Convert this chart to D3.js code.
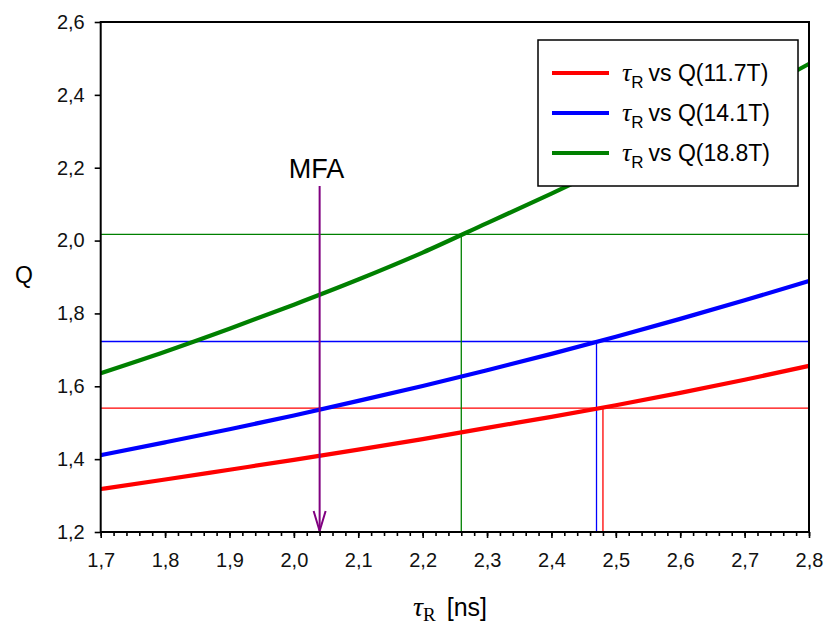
<!DOCTYPE html>
<html>
<head>
<meta charset="utf-8">
<script src="https://cdn.jsdelivr.net/npm/d3@7"></script>
<style>
  html, body { margin: 0; padding: 0; background: #fff; }
  svg { display: block; }
</style>
</head>
<body>
<svg id="chart" width="826" height="627"></svg>
<script>
// ---------- data ----------
const tau = [1.7, 1.8, 1.9, 2.0, 2.1, 2.2, 2.3, 2.4, 2.5, 2.6, 2.7, 2.8];
const q117 = [1.318, 1.344, 1.371, 1.398, 1.426, 1.455, 1.486, 1.516, 1.548, 1.582, 1.618, 1.656];
const q141 = [1.411, 1.446, 1.482, 1.520, 1.560, 1.601, 1.644, 1.689, 1.736, 1.785, 1.836, 1.889];
const q188 = [1.636, 1.695, 1.758, 1.824, 1.893, 1.967, 2.048, 2.129, 2.213, 2.300, 2.390, 2.485];
const seriesNames = ["vs Q(11.7T)", "vs Q(14.1T)", "vs Q(18.8T)"];
const seriesColors = ["#ff0000", "#0000ff", "#008000"];
// reference marks: [tau, Q]
const refTau = [2.48, 2.47, 2.26];
const refQ = [1.540, 1.723, 2.017];
const mfaTau = 2.04;
const mfaTop = 2.15;
const xTicks = [1.7, 1.8, 1.9, 2.0, 2.1, 2.2, 2.3, 2.4, 2.5, 2.6, 2.7, 2.8];
const xTickLabels = ["1,7", "1,8", "1,9", "2,0", "2,1", "2,2", "2,3", "2,4", "2,5", "2,6", "2,7", "2,8"];
const yTicks = [1.2, 1.4, 1.6, 1.8, 2.0, 2.2, 2.4, 2.6];
const yTickLabels = ["1,2", "1,4", "1,6", "1,8", "2,0", "2,2", "2,4", "2,6"];
const xMinorTicks = d3.range(0, 56).map(i => 1.7 + i * 0.02);

// ---------- layout ----------
const svg = d3.select("#chart");
const L = 100.7, R = 809, T = 22, B = 532;
const x = d3.scaleLinear().domain([1.7, 2.8]).range([L, R]);
const y = d3.scaleLinear().domain([1.2, 2.6]).range([B, T]);
const sans = "'Liberation Sans', Arial, sans-serif";
const serif = "'Liberation Serif', 'Times New Roman', serif";

const series = [q117, q141, q188].map((vals, i) => ({
  name: seriesNames[i], color: seriesColors[i],
  pts: tau.map((t, j) => [t, vals[j]])
}));

// reference lines
const refG = svg.append("g");
series.forEach((s, i) => {
  refG.append("line")
    .attr("x1", x(1.7)).attr("x2", x(2.8))
    .attr("y1", y(refQ[i])).attr("y2", y(refQ[i]))
    .attr("stroke", s.color).attr("stroke-width", 1.3);
  refG.append("line")
    .attr("x1", x(refTau[i])).attr("x2", x(refTau[i]))
    .attr("y1", y(1.2)).attr("y2", y(refQ[i]))
    .attr("stroke", s.color).attr("stroke-width", 1.3);
});

// curves
const line = d3.line().x(d => x(d[0])).y(d => y(d[1])).curve(d3.curveMonotoneX);
series.forEach(s => {
  svg.append("path").attr("d", line(s.pts))
    .attr("fill", "none").attr("stroke", s.color).attr("stroke-width", 4.2);
});

// MFA arrow
const purple = "#800080";
svg.append("line")
  .attr("x1", x(mfaTau)).attr("x2", x(mfaTau))
  .attr("y1", y(mfaTop)).attr("y2", y(1.2))
  .attr("stroke", purple).attr("stroke-width", 2);
svg.append("path")
  .attr("d", `M${x(mfaTau) - 6},${y(1.2) - 21} L${x(mfaTau)},${y(1.2) - 1} L${x(mfaTau) + 6},${y(1.2) - 21}`)
  .attr("fill", "none").attr("stroke", purple).attr("stroke-width", 2);
svg.append("text")
  .attr("x", x(mfaTau) - 3).attr("y", 178)
  .attr("text-anchor", "middle")
  .attr("font-family", sans).attr("font-size", 27)
  .text("MFA");

// axes
const xAxis = d3.axisBottom(x).tickValues(xTicks)
  .tickFormat((d, i) => xTickLabels[i]).tickSize(6).tickPadding(15);
const xMinor = d3.axisBottom(x).tickValues(xMinorTicks).tickFormat("").tickSize(4);
const yAxis = d3.axisLeft(y).tickValues(yTicks)
  .tickFormat((d, i) => yTickLabels[i]).tickSize(6).tickPadding(10);

const gxm = svg.append("g").attr("transform", `translate(0,${B})`).call(xMinor);
const gx = svg.append("g").attr("transform", `translate(0,${B})`).call(xAxis);
const gy = svg.append("g").attr("transform", `translate(${L},0)`).call(yAxis);
[gx, gxm, gy].forEach(g => {
  g.select(".domain").remove();
  g.selectAll(".tick line").attr("stroke", "#000").attr("stroke-width", 1.6);
  g.selectAll("text").attr("font-family", sans).attr("font-size", 20).attr("fill", "#111");
});

// frame
svg.append("rect")
  .attr("x", L).attr("y", T).attr("width", R - L).attr("height", B - T)
  .attr("fill", "none").attr("stroke", "#000").attr("stroke-width", 2);

// axis titles
svg.append("text")
  .attr("x", 24).attr("y", 283).attr("text-anchor", "middle")
  .attr("font-family", sans).attr("font-size", 23).text("Q");

const xt = svg.append("text").attr("x", 413).attr("y", 616);
xt.append("tspan").attr("font-family", serif).attr("font-style", "italic").attr("font-size", 28).text("τ");
xt.append("tspan").attr("font-family", serif).attr("font-size", 19).attr("dy", 5).text("R");
xt.append("tspan").attr("font-family", sans).attr("font-size", 25).attr("dy", -5).attr("dx", 11).text("[ns]");

// legend
const lg = svg.append("g");
lg.append("rect").attr("x", 538).attr("y", 40).attr("width", 260).attr("height", 146)
  .attr("fill", "#fff").attr("stroke", "#000").attr("stroke-width", 1.5);
series.forEach((s, i) => {
  const ry = 73 + i * 40;
  lg.append("line").attr("x1", 552).attr("x2", 609).attr("y1", ry).attr("y2", ry)
    .attr("stroke", s.color).attr("stroke-width", 4.2);
  const t = lg.append("text").attr("x", 622).attr("y", ry + 8);
  t.append("tspan").attr("font-family", serif).attr("font-style", "italic").attr("font-size", 26).text("τ");
  t.append("tspan").attr("font-family", sans).attr("font-size", 17).attr("dy", 7).text("R");
  t.append("tspan").attr("font-family", sans).attr("font-size", 23).attr("dy", -7).attr("dx", 5).text(s.name);
});
</script>
</body>
</html>
